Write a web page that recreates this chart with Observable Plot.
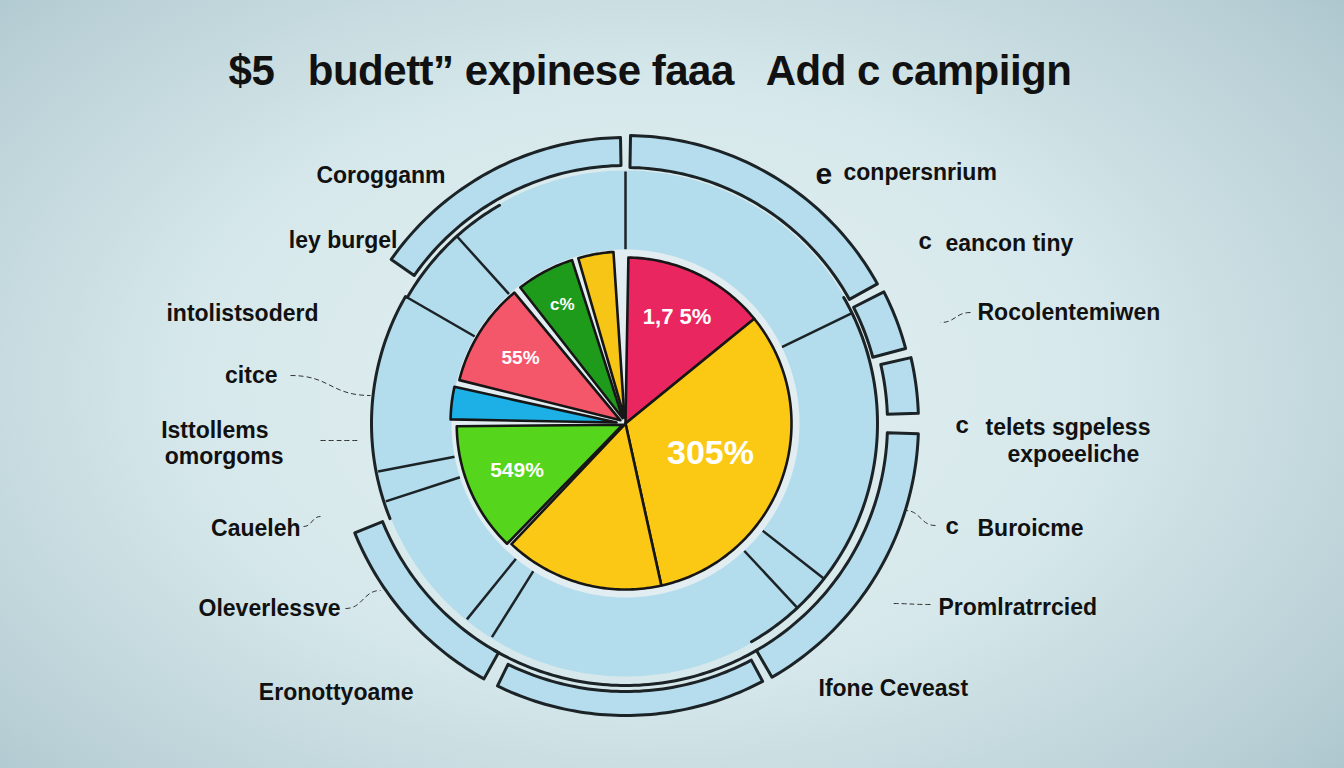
<!DOCTYPE html>
<html>
<head>
<meta charset="utf-8">
<script src="https://cdn.jsdelivr.net/npm/d3@7"></script>
<script src="https://cdn.jsdelivr.net/npm/@observablehq/plot@0.6"></script>
<style>
  html, body { margin: 0; padding: 0; }
  body {
    width: 1344px; height: 768px; overflow: hidden;
    background: radial-gradient(ellipse 75% 85% at 48% 50%, #e3f0f1 0%, #d6e8eb 45%, #b9d0d6 80%, #a4bec6 100%);
    font-family: "Liberation Sans", Arial, sans-serif;
  }
  #title {
    height: 110px; box-sizing: border-box; padding-top: 44px; padding-right: 44px;
    text-align: center; font-size: 42px; font-weight: 700; color: #111; line-height: 54px;
    letter-spacing: -0.5px; white-space: pre;
  }
  #chart svg { display: block; background: transparent; }
</style>
</head>
<body>
<div id="title"></div>
<div id="chart"></div>
<script>
// ---------------- data ----------------
const titleText = "$5   budett\u201D expinese faaa   Add c campiign";
const sliceNames = ["s1", "s2", "s3", "s4", "s5", "s6", "s7", "s8"];
const sliceValues = [50, 117, 56, 47, 13, 38, 22, 14];
const sliceLabels = ["1,7 5%", "305%", "", "549%", "", "55%", "c%", ""];
const sliceColors = ["#ea2660", "#fbc914", "#fbc915", "#55d51c", "#1cb0e6", "#f4566a", "#1f9b1c", "#f7c516"];

const leftLabels = ["Corogganm", "ley burgel", "intolistsoderd", "citce", "Isttollems", "omorgoms", "Caueleh", "Oleverlessve", "Eronottyoame"];
const rightLabels = ["conpersnrium", "eancon tiny", "Rocolentemiwen", "telets sgpeless", "expoeeliche", "Buroicme", "Promlratrrcied", "Ifone Ceveast"];
const bulletLabels = ["e", "c", "c", "c"];

// ---------------- layout (relative to pie centre, y up) ----------------
const sliceExplode = [0, 0, 0, 3, 9, 6, 6, 6];
const sliceLabelRadius = [118, 90, 0, 118, 0, 124, 135, 0];
const sliceLabelSize = [22, 34, 0, 21, 0, 19, 17, 0];
const leftPos = [[-180, 248], [-228, 183], [-307, 110], [-348, 48], [-357, -7], [-342, -33], [-325, -105], [-285, -185], [-212, -269]];
const rightPos = [[218, 251], [320, 180], [352, 111], [360, -4], [382, -31], [352, -105], [313, -184], [193, -265]];
const bulletPos = [[190, 249], [293, 182], [330, -2], [320, -103]];
const bulletSize = [30, 24, 24, 24];
const leaders = [[-335, 48, -255, 28], [-305, -17, -265, -17], [-322, -103, -305, -93], [-280, -185, -245, -167], [345, 111, 315, 101], [310, -102, 280, -87], [305, -181, 265, -180]];
const outerBands = [[305, 359, 258, 286], [1, 61, 256, 288], [63, 75, 256, 290], [77, 88, 262, 293], [92, 150, 262, 293], [152, 206, 268, 292], [209, 248, 262, 292]];
const innerArcs = [[300, 330, 252], [248, 300, 254], [150, 210, 262], [60, 150, 252]];
const spokes = [0, 64, 128, 137, 212, 219, 252, 259, 300, 318];

// ---------------- geometry ----------------
const rad = a => a * Math.PI / 180;
const P = (a, r, ox = 0, oy = 0) => ({x: ox + r * Math.sin(rad(a)), y: oy + r * Math.cos(rad(a))});
function ringPts(id, a0, a1, r0, r1) {
  const pts = [];
  const n = Math.max(2, Math.ceil(Math.abs(a1 - a0)));
  for (let i = 0; i <= n; i++) pts.push({id, ...P(a0 + (a1 - a0) * i / n, r1)});
  for (let i = n; i >= 0; i--) pts.push({id, ...P(a0 + (a1 - a0) * i / n, r0)});
  return pts;
}
function arcPts(id, a0, a1, r) {
  const pts = [];
  const n = Math.max(2, Math.ceil(Math.abs(a1 - a0)));
  for (let i = 0; i <= n; i++) pts.push({id, ...P(a0 + (a1 - a0) * i / n, r)});
  return pts;
}

const total = d3.sum(sliceValues);
let cum = 0;
const slices = sliceValues.map((v, i) => {
  const a0 = 1 + cum / total * 356; cum += v;
  const a1 = 1 + cum / total * 356;
  return {i, a0, a1, mid: (a0 + a1) / 2};
});
const R = 166;
const slicePts = slices.flatMap(s => {
  const pad = sliceExplode[s.i] ? 0.8 : 0;
  const o = P(s.mid, sliceExplode[s.i]);
  const a0 = s.a0 + pad, a1 = s.a1 - pad;
  const pts = [{id: s.i, x: o.x, y: o.y, c: sliceColors[s.i]}];
  const n = Math.ceil(a1 - a0);
  for (let k = 0; k <= n; k++) pts.push({id: s.i, ...P(a0 + (a1 - a0) * k / n, R, o.x, o.y), c: sliceColors[s.i]});
  return pts;
});
const sliceText = slices.filter(s => sliceLabels[s.i]).map(s => ({...P(s.mid, sliceLabelRadius[s.i]), t: sliceLabels[s.i], size: sliceLabelSize[s.i]}));

const inner = ringPts("inner", 0, 360, 170, 253);
const halo = ringPts("halo", 0, 360, 0, 174);
const bands = outerBands.flatMap((b, k) => ringPts("b" + k, b[0], b[1], b[2], b[3]));
const arcs = innerArcs.flatMap((a, k) => arcPts("a" + k, a[0], a[1], a[2]));
const spokeLines = spokes.map(a => {const p0 = P(a, 174), p1 = P(a, 252); return {x1: p0.x, y1: p0.y, x2: p1.x, y2: p1.y};});

const leftData = leftLabels.map((t, i) => ({t, x: leftPos[i][0], y: leftPos[i][1]}));
const rightData = rightLabels.map((t, i) => ({t, x: rightPos[i][0], y: rightPos[i][1]}));
const bulletData = bulletLabels.map((t, i) => ({t, x: bulletPos[i][0], y: bulletPos[i][1], size: bulletSize[i]}));
const leaderData = leaders.map(l => ({x1: l[0], y1: l[1], x2: l[2], y2: l[3]}));

document.getElementById("title").textContent = titleText;

const W = 1344, H = 658;
const chart = Plot.plot({
  width: W, height: H,
  margin: 0, inset: 0,
  x: {domain: [-625, W - 625], axis: null},
  y: {domain: [-345, 313], axis: null},
  color: {type: "identity"},
  style: {background: "transparent", fontFamily: "Liberation Sans, Arial, sans-serif"},
  marks: [
    Plot.line(bands, {x: "x", y: "y", z: "id", curve: "linear-closed", fill: "#b5dded", stroke: "#1b2326", strokeWidth: 3}),
    Plot.line(inner, {x: "x", y: "y", z: "id", curve: "linear-closed", fill: "#b3dcec", stroke: "none"}),
    Plot.line(arcs, {x: "x", y: "y", z: "id", stroke: "#1b2326", strokeWidth: 3, fill: "none"}),
    Plot.link(spokeLines, {x1: "x1", y1: "y1", x2: "x2", y2: "y2", stroke: "#1b2326", strokeWidth: 2.5}),
    Plot.line(halo, {x: "x", y: "y", z: "id", curve: "linear-closed", fill: "#e2edf1", stroke: "none"}),
    Plot.line(slicePts, {x: "x", y: "y", z: "id", curve: "linear-closed", fill: "c", stroke: "#161616", strokeWidth: 2.6, strokeLinejoin: "round"}),
    Plot.text(sliceText, {x: "x", y: "y", text: "t", fill: "white", fontSize: "size", fontWeight: 700}),
    Plot.link(leaderData, {x1: "x1", y1: "y1", x2: "x2", y2: "y2", stroke: "#333", strokeWidth: 1, strokeDasharray: "5,3", curve: "bump-x"}),
    Plot.text(leftData, {x: "x", y: "y", text: "t", textAnchor: "end", fontSize: 23, fontWeight: 700, fill: "#111"}),
    Plot.text(rightData, {x: "x", y: "y", text: "t", textAnchor: "start", fontSize: 23, fontWeight: 700, fill: "#111"}),
    Plot.text(bulletData, {x: "x", y: "y", text: "t", textAnchor: "start", fontSize: "size", fontWeight: 700, fill: "#111"})
  ]
});
document.getElementById("chart").appendChild(chart);
</script>
</body>
</html>
